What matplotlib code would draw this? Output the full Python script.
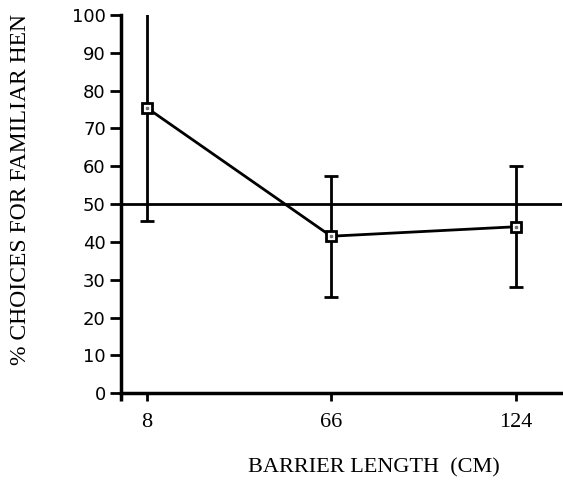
import matplotlib
matplotlib.use("Agg")
import matplotlib.pyplot as plt

# barrier lengths (cm) and % choices for familiar hen, with error half-widths
lengths = [8, 66, 124]
pct_familiar = [75.5, 41.5, 44]
err = [30, 16, 16]
chance_level = 50
y_ticks = list(range(0, 101, 10))

fig = plt.figure(figsize=(5.63, 4.83), dpi=100)
ax = fig.add_axes([0.215, 0.186, 0.783, 0.783])

ax.axhline(chance_level, color="black", lw=2, zorder=1)
ax.errorbar(lengths, pct_familiar, yerr=err, color="black", lw=2,
            elinewidth=2, capsize=4.7, capthick=2, marker="s", ms=7,
            mfc="white", mec="black", mew=2, zorder=3)
# tiny dot inside each square marker
ax.plot(lengths, pct_familiar, ls="none", marker="s", ms=1.5, color="0.45", zorder=4)

ax.set_xlim(0, 138.5)
ax.set_ylim(0, 100)
ax.set_xticks(lengths)
ax.set_xticks([0], minor=True)
ax.set_yticks(y_ticks)
ax.set_xticklabels([str(v) for v in lengths], family="Liberation Serif", fontsize=16)
ax.set_yticklabels([str(v) for v in y_ticks], family="DejaVu Sans", fontsize=13)

for s in ["top", "right"]:
    ax.spines[s].set_visible(False)
for s in ["left", "bottom"]:
    ax.spines[s].set_linewidth(2.5)
ax.tick_params(axis="y", length=8, width=2, pad=3)
ax.tick_params(axis="x", which="both", length=6, width=2, pad=8)
ax.tick_params(axis="x", which="minor", width=2.5)

fig.text(0.036, 0.607, "% CHOICES FOR FAMILIAR HEN", family="Liberation Serif",
         fontsize=17, rotation=90, ha="center", va="center")
fig.text(0.664, 0.021, "BARRIER LENGTH  (CM)", family="Liberation Serif", fontsize=16,
         ha="center", va="baseline")

fig.savefig("out.png", dpi=100)
